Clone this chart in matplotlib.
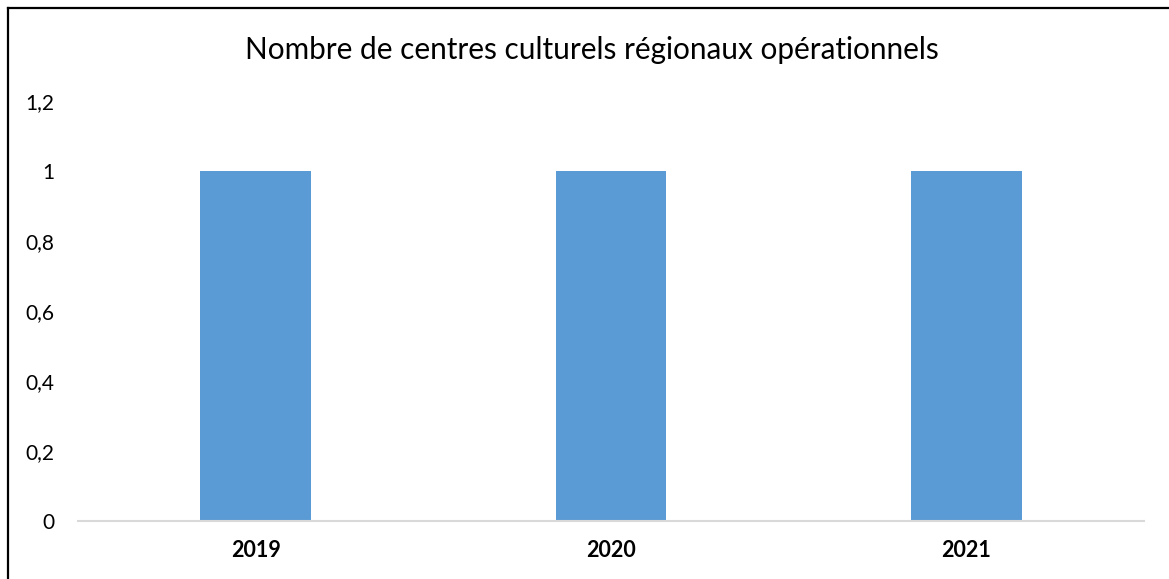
import matplotlib
matplotlib.use("Agg")
import matplotlib.pyplot as plt
from matplotlib.lines import Line2D

categories = ["2019", "2020", "2021"]
values = [1, 1, 1]
yticks = [0, 0.2, 0.4, 0.6, 0.8, 1.0, 1.2]
ytick_labels = ["0", "0,2", "0,4", "0,6", "0,8", "1", "1,2"]
title = "Nombre de centres culturels régionaux opérationnels"

plt.rcParams['font.family'] = ['Lato', 'DejaVu Sans']

W, H = 1169, 579
fig = plt.figure(figsize=(W / 100, H / 100), dpi=100)
ax = fig.add_axes([78 / W, 1 - 521 / H, (1144 - 78) / W, (521 - 101) / H])

x = range(len(categories))
ax.bar(x, values, width=0.312, color="#5B9BD5", edgecolor="#5B9BD5", linewidth=0)
ax.set_xlim(-0.5, 2.5)
ax.set_ylim(0, 1.2)
ax.set_xticks(list(x))
ax.set_xticklabels(categories, fontsize=15.5, fontweight="bold")
ax.set_yticks(yticks)
ax.set_yticklabels(ytick_labels, fontsize=15)
ax.tick_params(axis="both", length=0)
ax.tick_params(axis="y", pad=17)
ax.tick_params(axis="x", pad=14)
for s in ["top", "right", "left"]:
    ax.spines[s].set_visible(False)
ax.spines["bottom"].set_color("#D9D9D9")
ax.spines["bottom"].set_linewidth(1.5)

fig.text(592 / W, 1 - 50 / H, title, ha="center", va="center", fontsize=21.4)

# outer border (left and top visible; right and bottom cropped)
lw = 1.6
fig.add_artist(Line2D([7.5 / W, 7.5 / W], [1 - 8 / H, 0], transform=fig.transFigure, color="black", lw=lw))
fig.add_artist(Line2D([7.5 / W, 1.0], [1 - 8 / H, 1 - 8 / H], transform=fig.transFigure, color="black", lw=lw))

fig.savefig("out.png", dpi=100)
